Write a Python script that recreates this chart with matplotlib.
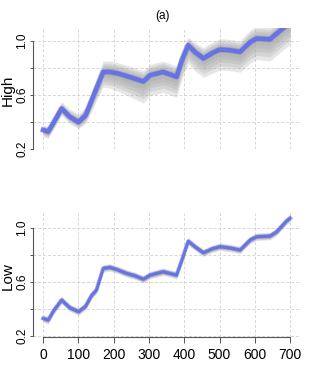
import matplotlib
matplotlib.use('Agg')
import matplotlib.pyplot as plt
import numpy as np

# Data:

t = np.array([0, 14, 30, 52, 75, 100, 120, 137, 151, 170, 189, 210, 236, 260, 284, 303,
              340, 378, 393, 411, 430, 454, 480, 501, 530, 558, 587, 605, 643, 662, 690, 700])

high = np.array([0.342, 0.33, 0.40, 0.50, 0.44, 0.40, 0.45, 0.56, 0.65, 0.77, 0.77, 0.76,
                 0.74, 0.72, 0.70, 0.746, 0.77, 0.734, 0.857, 0.967, 0.918, 0.87, 0.91, 0.935,
                 0.93, 0.918, 0.99, 1.016, 1.011, 1.053, 1.114, 1.13])
high_up = np.array([.035, .04, .045, .05, .055, .06, .06, .065, .07, .08, .08, .08, .08, .08, .08, .08,
                    .08, .08, .07, .06, .07, .08, .08, .08, .08, .08, .09, .09, .09, .09, .09, .09])
high_down = np.array([.05, .05, .05, .05, .05, .05, .06, .08, .09, .11, .12, .13, .14, .15, .16, .15,
                      .15, .15, .14, .135, .14, .14, .15, .15, .15, .15, .155, .155, .16, .16, .16, .16])

low = np.array([0.33, 0.318, 0.39, 0.466, 0.41, 0.38, 0.42, 0.50, 0.54, 0.70, 0.707, 0.69,
                0.663, 0.645, 0.62, 0.65, 0.675, 0.65, 0.76, 0.90, 0.86, 0.815, 0.845, 0.86,
                0.85, 0.835, 0.91, 0.933, 0.938, 0.97, 1.05, 1.07])
low_spread = np.array([.028] * len(t))

x_ticks = [0, 100, 200, 300, 400, 500, 600, 700]
y_ticks = [0.2, 0.4, 0.6, 0.8, 1.0]
y_ticklabels = ['0.2', '', '0.6', '', '1.0']

blue = '#5f6ce6'
narrow = ['Liberation Sans Narrow', 'Liberation Sans', 'DejaVu Sans']
plt.rcParams['font.family'] = ['Liberation Sans', 'DejaVu Sans']

fig = plt.figure(figsize=(3.25, 3.74), dpi=100)


def panel(rect, y, up, down, ylim, name, lw, show_x):
    ax = fig.add_axes(rect)
    ax.set_xlim(-29, 728)
    ax.set_ylim(*ylim)
    for xv in x_ticks:
        ax.axvline(xv, color='#d6d6d6', lw=0.7, ls=(0, (3, 2)), zorder=0)
    for yv in y_ticks:
        ax.axhline(yv, color='#d6d6d6', lw=0.7, ls=(0, (3, 2)), zorder=0)
    # shaded uncertainty, darker towards the middle
    for frac in [1.0, 0.8, 0.62, 0.45, 0.3]:
        ax.fill_between(t, y - down * frac, y + up * frac, color='#a8a8a8', alpha=0.28, lw=0, zorder=1)
    ax.plot(t, y, color=blue, lw=lw + 1.0, alpha=0.35, solid_joinstyle='round', zorder=2)
    ax.plot(t, y, color=blue, lw=lw, alpha=0.85, solid_joinstyle='round', zorder=3)

    for s in ['top', 'right']:
        ax.spines[s].set_visible(False)
    ax.spines['left'].set_bounds(0.2, 1.0)
    ax.spines['left'].set_color('#555555')
    ax.spines['left'].set_linewidth(0.8)
    ax.set_yticks(y_ticks)
    ax.set_yticklabels(y_ticklabels, rotation=90, va='center', fontsize=8.5)
    ax.tick_params(axis='y', length=2.2, width=0.7, color='#555555', pad=1.0)
    if show_x:
        ax.spines['bottom'].set_bounds(0, 700)
        ax.spines['bottom'].set_color('#555555')
        ax.spines['bottom'].set_linewidth(0.8)
        ax.set_xticks(x_ticks)
        ax.set_xticklabels([str(v) for v in x_ticks], fontsize=10, family=narrow)
        ax.tick_params(axis='x', length=4.5, width=0.7, color='#555555', pad=3.5)
    else:
        ax.spines['bottom'].set_visible(False)
        ax.set_xticks([])
    fig.text(14.5 / 325, rect[1] + rect[3] * 0.49, name, rotation=90, ha='right', va='center', fontsize=11)
    return ax


panel([0.1015, 0.6008, 0.8215, 0.3243], high, high_up, high_down, (0.2, 1.094), 'High', 3.2, False)
panel([0.1015, 0.0989, 0.8215, 0.3307], low, low_spread, low_spread, (0.193, 1.106), 'Low', 2.2, True)

fig.text(163 / 325, 1 - 16 / 374, '(a)', ha='center', va='center', fontsize=8.5, family=narrow)

fig.savefig('out.png', dpi=100)
